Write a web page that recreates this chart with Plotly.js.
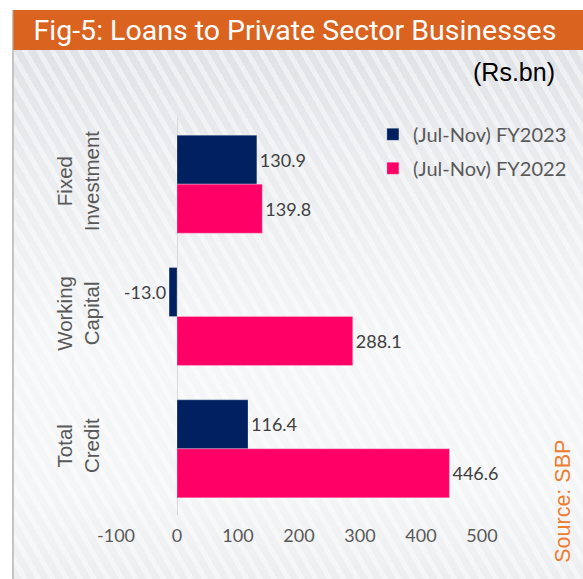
<!DOCTYPE html>
<html>
<head>
<meta charset="utf-8">
<script src="https://cdn.plot.ly/plotly-3.0.1.min.js"></script>
<style>
  html, body { margin: 0; padding: 0; background: #ffffff; }
  #wrap { position: relative; width: 583px; height: 579px; overflow: hidden; background: #ffffff; }
  #bg {
    position: absolute; left: 12px; top: 10px; width: 571px; height: 569px;
    border-left: 2px solid #c4c4c4;
    background:
      repeating-linear-gradient(60deg, rgba(255,255,255,0) 0px, rgba(255,255,255,0) 7px, rgba(255,255,255,0.45) 7px, rgba(255,255,255,0.45) 12px),
      linear-gradient(to bottom, #dcdfe3 0%, #e9ebee 25%, #f5f6f7 60%, #f4f5f6 85%, #eceef0 100%);
  }
  #chart { position: absolute; left: 0; top: 0; width: 583px; height: 579px; }
</style>
</head>
<body>
<div id="wrap">
  <div id="bg"></div>
  <div id="chart"></div>
</div>
<script>
const categories = ["Fixed<br>Investment", "Working<br>Capital", "Total<br>Credit"];
const seriesNames = ["(Jul-Nov) FY2023", "(Jul-Nov) FY2022"];
const fy2023 = [130.9, -13.0, 116.4];
const fy2022 = [139.8, 288.1, 446.6];
const xTicks = [-100, 0, 100, 200, 300, 400, 500];

const labelFont = {family: "Lato, 'Liberation Sans', sans-serif", size: 18, color: "#404040"};

const traces = [
  {
    type: "bar", orientation: "h", name: seriesNames[0],
    y: categories, x: fy2023,
    marker: {color: "#002060", line: {color: "rgba(255,255,255,0.5)", width: 0.5}},
    text: fy2023.map(v => v.toFixed(1)), textposition: "outside",
    textfont: labelFont, cliponaxis: false, constraintext: "none",
    legendgroup: "a", hoverinfo: "none"
  },
  {
    type: "bar", orientation: "h", name: seriesNames[1],
    y: categories, x: fy2022,
    marker: {color: "#FF0066", line: {color: "rgba(255,255,255,0.5)", width: 0.5}},
    text: fy2022.map(v => v.toFixed(1)), textposition: "outside",
    textfont: labelFont, cliponaxis: false, constraintext: "none",
    legendgroup: "b", hoverinfo: "none"
  }
];

const layout = {
  width: 583, height: 579,
  margin: {l: 116, r: 100, t: 118, b: 64},
  paper_bgcolor: "rgba(0,0,0,0)",
  plot_bgcolor: "rgba(0,0,0,0)",
  barmode: "group", bargap: 0.26, bargroupgap: 0,
  showlegend: true,
  title: {
    text: "Fig-5: Loans to Private Sector Businesses",
    font: {family: "Roboto, 'Liberation Sans', sans-serif", size: 28.5, color: "#ffffff"},
    xref: "container", x: 295 / 583, xanchor: "center",
    yref: "container", y: 1 - 30/579, yanchor: "middle"
  },
  xaxis: {
    range: [-100, 500], tickvals: xTicks, ticktext: xTicks.map(String),
    showgrid: false, zeroline: true, zerolinecolor: "#d9d9d9", zerolinewidth: 1,
    showline: false, ticks: "outside", ticklen: 4, tickcolor: "rgba(0,0,0,0)",
    tickfont: {family: "Lato, 'Liberation Sans', sans-serif", size: 18, color: "#595959"},
    fixedrange: true
  },
  yaxis: {
    type: "category", autorange: "reversed",
    showgrid: false, zeroline: false, showline: false,
    tickangle: -90, ticks: "outside", ticklen: 8, tickcolor: "rgba(0,0,0,0)",
    tickfont: {family: "'Liberation Sans', Arial, sans-serif", size: 20.5, color: "#595959"},
    fixedrange: true
  },
  legend: {
    x: 0.70, xanchor: "left", y: 1.008, yanchor: "top",
    traceorder: "grouped", tracegroupgap: 5,
    bgcolor: "rgba(0,0,0,0)",
    font: {family: "Lato, 'Liberation Sans', sans-serif", size: 20, color: "#595959"}
  },
  shapes: [
    {type: "rect", xref: "paper", yref: "paper", layer: "below",
     x0: (13 - 116) / 367, x1: (590 - 116) / 367,
     y0: (515 - 50) / 397, y1: (515 - 10) / 397,
     fillcolor: "#D9631F", line: {width: 0}}
  ],
  annotations: [
    {text: "(Rs.bn)", xref: "paper", yref: "paper",
     x: (558 - 116) / 367, xanchor: "right", y: (515 - 72) / 397, yanchor: "middle",
     showarrow: false, font: {family: "'Liberation Sans', Arial, sans-serif", size: 25, color: "#000000"}},
    {text: "Source: SBP", xref: "paper", yref: "paper", textangle: -90,
     x: (564 - 116) / 367, xanchor: "center", y: (515 - 501) / 397, yanchor: "middle",
     showarrow: false, font: {family: "'Liberation Sans', Arial, sans-serif", size: 21.5, color: "#ED7D31"}}
  ]
};

Plotly.newPlot("chart", traces, layout, {displayModeBar: false, staticPlot: true});
</script>
</body>
</html>
